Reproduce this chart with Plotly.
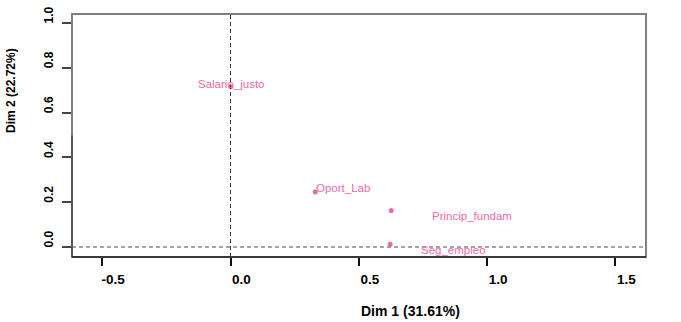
import plotly.graph_objects as go

labels = ["Salario_justo", "Oport_Lab", "Princip_fundam", "Seg_empleo"]
dim1 = [0.001, 0.33, 0.626, 0.622]
dim2 = [0.715, 0.246, 0.163, 0.012]
x_ticks = [-0.5, 0.0, 0.5, 1.0, 1.5]
y_ticks = [0.0, 0.2, 0.4, 0.6, 0.8, 1.0]
x_title = "Dim 1 (31.61%)"
y_title = "Dim 2 (22.72%)"

PINK = "#EE6AA7"
FONT = "Liberation Sans, Arial, sans-serif"

# label placement offsets (px) relative to each point: (xshift, yshift, xanchor)
label_pos = {
    "Salario_justo": (0, 3, "center"),
    "Oport_Lab": (0, 4, "left"),
    "Princip_fundam": (81, -6, "center"),
    "Seg_empleo": (63, -6, "center"),
}

fig = go.Figure()
fig.add_trace(go.Scatter(
    x=dim1, y=dim2, mode="markers",
    marker=dict(color=PINK, size=5),
    hoverinfo="skip", showlegend=False,
))

ann = []
for lab, xv, yv in zip(labels, dim1, dim2):
    xs, ys, xa = label_pos[lab]
    ann.append(dict(x=xv, y=yv, xref="x", yref="y", text=lab, showarrow=False,
                    xanchor=xa, yanchor="middle", xshift=xs, yshift=ys,
                    font=dict(color=PINK, size=11.5, family=FONT), borderpad=0))

ann.append(dict(x=0.5, y=0, xref="paper", yref="paper", text="<b>" + x_title + "</b>",
                showarrow=False, xanchor="left", yanchor="middle", yshift=-54,
                xshift=0, font=dict(size=14, color="#000", family=FONT)))
ann.append(dict(x=0, y=0.5, xref="paper", yref="paper", text="<b>" + y_title + "</b>",
                textangle=-90,
                showarrow=False, xanchor="center", yanchor="bottom", xshift=-61,
                font=dict(size=12, color="#000", family=FONT)))

shapes = [
    dict(type="line", xref="x", yref="paper", x0=0, x1=0, y0=0, y1=1,
         line=dict(color="#333333", width=1, dash="4px,3px")),
    dict(type="line", xref="paper", yref="y", x0=0, x1=1, y0=0, y1=0,
         line=dict(color="#888888", width=1.5, dash="4px,3px")),
    dict(type="rect", xref="paper", yref="paper", x0=0, x1=1, y0=0, y1=1,
         line=dict(color="#808080", width=2)),
    dict(type="line", xref="paper", yref="paper", x0=0, x1=0, y0=0, y1=0.5,
         line=dict(color="#555555", width=2)),
    dict(type="line", xref="paper", yref="paper", x0=0, x1=1, y0=0, y1=0,
         line=dict(color="#222222", width=1.5)),
]

fig.update_layout(
    width=681, height=322,
    margin=dict(l=72, r=35, t=14, b=65),
    paper_bgcolor="white", plot_bgcolor="white",
    font=dict(family=FONT, color="#000"),
    annotations=ann, shapes=shapes,
    xaxis=dict(range=[-0.6176, 1.619], tickvals=x_ticks,
               ticktext=["<b>%.1f</b>" % v for v in x_ticks],
               ticks="outside", ticklen=8, tickwidth=1.5, tickcolor="#111",
               showgrid=False, zeroline=False, showline=False, automargin=False,
               tickfont=dict(size=13.5, family=FONT, color="#000"),
               ticklabelshift=11, ticklabelstandoff=2),
    yaxis=dict(range=[-0.0447, 1.040], tickvals=y_ticks,
               ticktext=["<b>%.1f</b>" % v for v in y_ticks],
               ticks="outside", ticklen=9, tickwidth=1.5, tickcolor="#444",
               showgrid=False, zeroline=False, showline=False, tickangle=-90,
               automargin=False,
               tickfont=dict(size=12, family=FONT, color="#000"),
               ticklabelshift=-6, ticklabelstandoff=4),
)

fig.write_html("out.html")
